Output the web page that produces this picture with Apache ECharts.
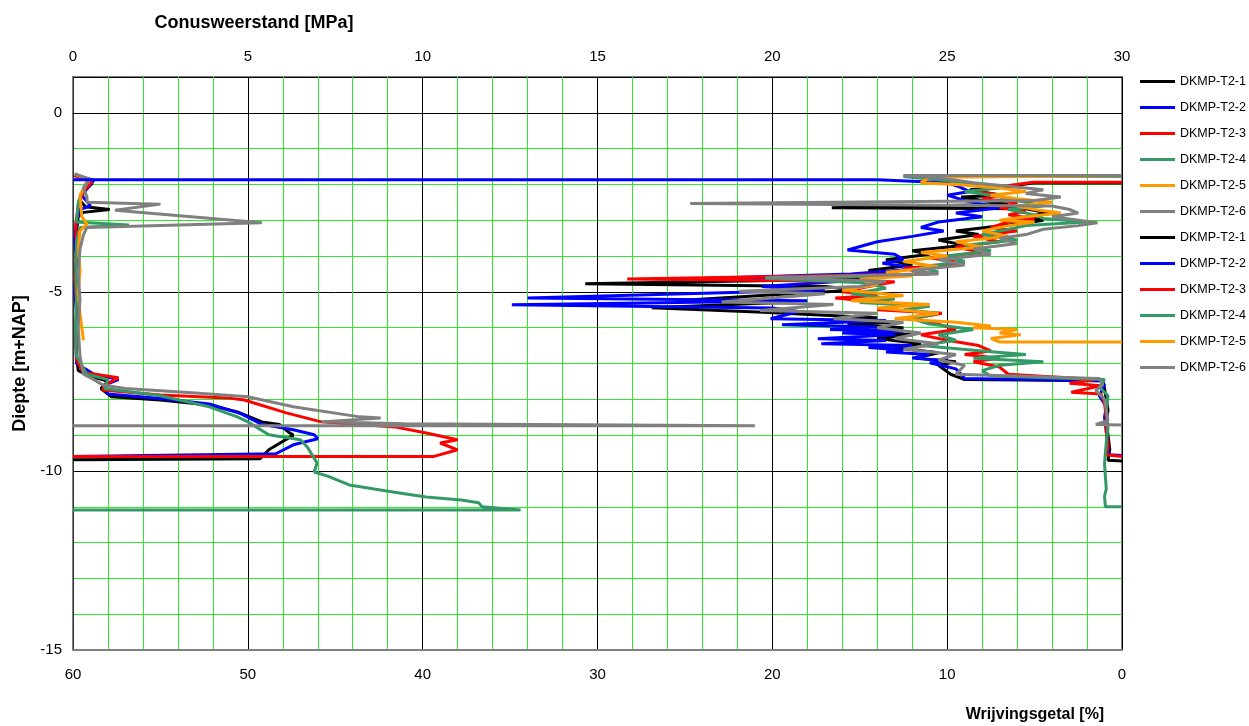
<!DOCTYPE html>
<html>
<head>
<meta charset="utf-8">
<title>DKMP-T2 sonderingen</title>
<script src="https://cdn.jsdelivr.net/npm/echarts@6/dist/echarts.min.js"></script>
<style>
    html, body { margin: 0; padding: 0; background: #fff; }
    #chart { width: 1249px; height: 726px; }
</style>
</head>
<body>
<div id="chart"></div>
<script>

// namen en kleuren van de sonderingen
var names = ['DKMP-T2-1', 'DKMP-T2-2', 'DKMP-T2-3', 'DKMP-T2-4', 'DKMP-T2-5', 'DKMP-T2-6'];
var colors = ['#000000', '#0000ff', '#ff0000', '#339966', '#ff9900', '#808080'];

// conusweerstand [MPa], diepte [m+NAP]
var qcT21 = [[0.05,-1.75],[0.5,-1.9],[0.55,-1.97],[0.3,-2.2],[0.2,-2.45],[0.35,-2.62],[1.05,-2.7],[0.3,-2.78],[0.15,-2.9],[0.1,-3.3],[0.12,-3.8],[0.08,-4.4],[0.12,-5.0],[0.1,-5.6],[0.12,-6.2],[0.1,-6.8],[0.15,-7.2],[0.5,-7.35],[1.0,-7.5],[0.8,-7.7],[1.1,-7.93],[2.5,-8.02],[3.9,-8.16],[4.7,-8.35],[5.4,-8.63],[5.9,-8.7],[6.2,-8.94],[6.3,-9.0],[5.6,-9.41],[5.35,-9.66],[0,-9.69]];
var qcT22 = [[0.05,-1.75],[0.6,-1.88],[0.5,-2.0],[0.25,-2.3],[0.5,-2.6],[0.2,-2.7],[0.1,-3.0],[0.05,-3.5],[0.1,-4.2],[0.05,-5.0],[0.1,-5.6],[0.08,-6.3],[0.1,-7.0],[0.6,-7.3],[1.3,-7.45],[0.9,-7.6],[1.0,-7.85],[2.5,-7.98],[3.9,-8.13],[4.8,-8.4],[5.4,-8.7],[6.3,-8.85],[6.9,-8.99],[7.0,-9.1],[6.3,-9.27],[5.8,-9.52],[0,-9.6]];
var qcT23 = [[0.05,-1.75],[0.55,-1.92],[0.3,-2.2],[0.15,-2.6],[0.08,-3.1],[0.1,-3.8],[0.06,-4.6],[0.1,-5.4],[0.08,-6.2],[0.1,-6.9],[0.3,-7.25],[1.3,-7.4],[0.9,-7.6],[0.85,-7.74],[2.5,-7.88],[4.4,-7.96],[4.9,-8.02],[6.1,-8.38],[7.1,-8.63],[9.2,-8.77],[10.1,-8.94],[11.0,-9.13],[10.5,-9.22],[11.0,-9.41],[10.3,-9.6],[0,-9.6]];
var qcT24 = [[0.05,-1.7],[0.45,-1.85],[0.3,-2.1],[0.15,-2.5],[0.1,-3.05],[1.6,-3.13],[0.2,-3.2],[0.1,-3.6],[0.08,-4.4],[0.1,-5.2],[0.07,-6.0],[0.1,-6.8],[0.4,-7.3],[1.0,-7.45],[0.9,-7.7],[2.5,-7.9],[3.9,-8.21],[4.7,-8.49],[5.0,-8.63],[5.6,-8.99],[6.5,-9.13],[6.7,-9.33],[6.98,-9.78],[6.9,-10.03],[7.3,-10.15],[7.9,-10.39],[9.15,-10.59],[10.1,-10.73],[11.1,-10.81],[11.6,-10.89],[11.7,-11.0],[12.8,-11.09],[0,-11.09]];
var qcT25 = [[0.05,-1.72],[0.4,-1.85],[0.35,-2.05],[0.2,-2.3],[0.25,-2.9],[0.4,-3.1],[0.2,-3.3],[0.15,-3.8],[0.2,-4.4],[0.15,-5.0],[0.2,-5.6],[0.25,-6.0],[0.3,-6.35]];
var qcT26 = [[0.05,-1.72],[0.5,-1.85],[0.3,-2.1],[0.4,-2.35],[0.4,-2.5],[2.5,-2.55],[1.2,-2.72],[5.4,-3.07],[0.4,-3.2],[0.3,-3.4],[0.2,-3.8],[0.15,-4.5],[0.2,-5.2],[0.15,-6.0],[0.2,-6.8],[0.3,-7.3],[0.6,-7.45],[0.85,-7.6],[1.5,-7.7],[3.4,-7.82],[5.0,-7.93],[6.3,-8.21],[8.2,-8.49],[8.8,-8.52],[7.1,-8.63],[9.5,-8.68],[19.5,-8.74],[0,-8.74]];

// wrijvingsgetal [%], diepte [m+NAP]
var rfT21 = [[0,-1.96],[5.1,-1.96],[6.5,-2.05],[8.7,-2.15],[7.5,-2.25],[6.8,-2.3],[9.2,-2.35],[8.0,-2.45],[6.5,-2.55],[16.6,-2.65],[5.5,-2.68],[4.2,-2.8],[5.5,-2.9],[4.5,-3.0],[5.8,-3.1],[7.8,-3.2],[9.5,-3.3],[8.2,-3.4],[10.5,-3.55],[9.0,-3.7],[12.0,-3.85],[11.0,-3.95],[13.5,-4.1],[12.0,-4.25],[14.5,-4.4],[13.0,-4.55],[16.0,-4.65],[30.7,-4.77],[17.0,-4.85],[15.0,-4.95],[19.0,-5.05],[25.5,-5.25],[19.5,-5.3],[26.9,-5.44],[20.5,-5.57],[17.0,-5.65],[14.0,-5.72],[15.5,-5.78],[13.0,-5.85],[15.7,-5.92],[12.5,-6.0],[15.0,-6.1],[12.0,-6.2],[14.0,-6.3],[11.5,-6.45],[13.0,-6.55],[10.5,-6.7],[11.8,-6.85],[9.5,-6.95],[10.5,-7.05],[9.8,-7.3],[9.0,-7.45],[1.1,-7.48],[1.0,-7.7],[0.9,-8.0],[0.8,-8.3],[0.9,-8.6],[0.8,-9.0],[0.7,-9.4],[0.8,-9.7],[0,-9.72]];
var rfT22 = [[60,-1.87],[14,-1.87],[10.0,-1.95],[9.4,-2.05],[8.7,-2.2],[10.0,-2.3],[9.0,-2.45],[8.0,-2.55],[7.0,-2.65],[9.5,-2.8],[8.0,-2.9],[10.5,-3.05],[11.5,-3.2],[10.2,-3.3],[12.0,-3.45],[14.0,-3.6],[15.7,-3.83],[13.0,-3.95],[12.5,-4.1],[13.7,-4.2],[11.5,-4.35],[15.5,-4.5],[23.6,-4.62],[16.0,-4.7],[20.6,-4.85],[17.0,-4.95],[34.0,-5.17],[18.0,-5.25],[34.9,-5.36],[20.0,-5.45],[18.5,-5.55],[20.1,-5.75],[13.5,-5.8],[19.45,-5.92],[14.0,-5.98],[16.7,-6.05],[12.5,-6.1],[16.0,-6.15],[13.0,-6.2],[17.4,-6.31],[13.5,-6.36],[17.2,-6.45],[12.0,-6.5],[14.5,-6.55],[12.5,-6.62],[13.5,-6.68],[11.0,-6.75],[12.0,-6.85],[10.0,-6.92],[11.0,-6.98],[9.5,-7.15],[9.2,-7.3],[9.0,-7.42],[1.2,-7.48],[1.0,-7.6],[1.3,-7.9],[0.9,-8.2],[1.0,-8.5],[0.9,-8.9],[0.8,-9.3],[0.8,-9.55],[0,-9.57]];
var rfT23 = [[0,-1.94],[5.1,-1.94],[7.5,-2.1],[8.3,-2.2],[7.0,-2.3],[8.0,-2.4],[6.0,-2.5],[7.0,-2.65],[5.5,-2.75],[6.5,-2.85],[5.0,-2.95],[6.5,-3.05],[7.5,-3.2],[6.0,-3.3],[8.5,-3.45],[7.0,-3.6],[9.5,-3.75],[8.0,-3.9],[11.0,-4.05],[9.0,-4.2],[12.5,-4.35],[11.0,-4.5],[28.3,-4.64],[13.0,-4.72],[14.5,-4.85],[16.0,-5.0],[14.0,-5.1],[16.4,-5.17],[12.5,-5.35],[14.0,-5.5],[10.3,-5.6],[12.0,-5.75],[10.5,-5.9],[9.5,-6.05],[11.5,-6.2],[10.0,-6.35],[8.2,-6.5],[7.5,-6.65],[9.0,-6.75],[7.0,-6.85],[8.5,-6.95],[7.0,-7.1],[6.5,-7.3],[1.5,-7.45],[3.0,-7.55],[1.2,-7.62],[2.9,-7.8],[1.2,-7.85],[1.0,-8.1],[0.9,-8.5],[0.9,-8.9],[0.8,-9.3],[0.9,-9.55],[0,-9.6]];
var rfT24 = [[0,-1.78],[12.5,-1.78],[10.0,-1.9],[8.0,-2.0],[7.0,-2.1],[9.0,-2.2],[7.5,-2.3],[6.0,-2.45],[4.5,-2.6],[6.5,-2.7],[5.0,-2.85],[4.5,-2.95],[2.0,-3.05],[5.5,-3.15],[6.5,-3.25],[8.0,-3.4],[6.0,-3.55],[9.0,-3.7],[7.5,-3.85],[10.0,-4.0],[9.0,-4.15],[11.5,-4.3],[10.5,-4.45],[13.0,-4.55],[20.4,-4.63],[14.5,-4.75],[13.5,-4.9],[15.5,-5.05],[13.0,-5.2],[15.0,-5.3],[11.0,-5.4],[12.5,-5.5],[10.5,-5.6],[12.0,-5.75],[11.0,-5.9],[8.5,-6.05],[10.5,-6.2],[9.5,-6.35],[11.5,-6.5],[8.0,-6.65],[5.5,-6.75],[8.5,-6.85],[4.5,-6.95],[7.0,-7.05],[8.0,-7.2],[7.5,-7.35],[1.0,-7.45],[1.3,-7.65],[0.8,-7.9],[0.9,-8.3],[0.8,-8.8],[0.9,-9.2],[1.0,-9.8],[0.9,-10.5],[1.0,-10.7],[0.95,-11.0],[0,-11.0]];
var rfT25 = [[0,-1.76],[11.0,-1.8],[11.5,-1.95],[9.5,-2.0],[7.0,-2.1],[5.5,-2.2],[7.5,-2.3],[6.0,-2.4],[4.0,-2.5],[6.0,-2.6],[5.0,-2.7],[3.5,-2.8],[5.5,-2.9],[7.0,-3.0],[5.0,-3.05],[6.5,-3.15],[8.0,-3.3],[6.5,-3.45],[9.5,-3.6],[8.0,-3.75],[11.5,-3.9],[10.0,-4.0],[12.5,-4.15],[10.5,-4.3],[13.5,-4.45],[12.0,-4.55],[15.0,-4.65],[14.0,-4.8],[16.0,-4.95],[12.5,-5.1],[15.5,-5.25],[11.0,-5.35],[14.0,-5.45],[10.5,-5.6],[13.0,-5.75],[9.5,-5.85],[7.5,-5.95],[8.5,-6.0],[6.0,-6.05],[7.0,-6.15],[5.8,-6.2],[7.5,-6.3],[7.0,-6.4],[0,-6.4]];
var rfT26 = [[0,-1.75],[12.5,-1.75],[10.0,-1.85],[8.5,-1.95],[6.5,-2.05],[4.5,-2.15],[5.5,-2.25],[3.5,-2.35],[5.0,-2.45],[24.7,-2.53],[4.0,-2.6],[3.0,-2.7],[2.5,-2.8],[4.0,-2.9],[1.4,-3.07],[2.5,-3.15],[4.5,-3.25],[5.5,-3.4],[7.0,-3.5],[6.0,-3.65],[8.5,-3.8],[7.5,-3.95],[10.5,-4.1],[9.0,-4.25],[12.0,-4.4],[10.5,-4.5],[20.4,-4.6],[13.5,-4.7],[15.0,-4.85],[21.9,-4.98],[17.0,-5.05],[22.9,-5.28],[16.5,-5.35],[20.7,-5.52],[14.0,-5.6],[16.5,-5.75],[12.5,-5.85],[14.0,-6.0],[11.5,-6.15],[13.0,-6.3],[10.5,-6.45],[12.5,-6.6],[9.5,-6.75],[10.5,-6.9],[9.0,-7.05],[9.5,-7.3],[1.3,-7.42],[1.1,-7.6],[1.5,-7.75],[1.0,-8.0],[0.9,-8.3],[0.8,-8.6],[1.5,-8.7],[0,-8.72]];

var qcData = [qcT21, qcT22, qcT23, qcT24, qcT25, qcT26];
var rfData = [rfT21, rfT22, rfT23, rfT24, rfT25, rfT26];

var chart = echarts.init(document.getElementById('chart'), null, { renderer: 'canvas' });

var font = 'Liberation Sans, Arial, sans-serif';
var series = [];
var legendNames = [];

qcData.forEach(function (d, i) {
    series.push({
        name: names[i],
        type: 'line',
        xAxisIndex: 0,
        yAxisIndex: 0,
        data: d,
        symbol: 'none',
        color: colors[i],
        lineStyle: { width: 3, color: colors[i] }
    });
    legendNames.push(names[i]);
});
// tweede groep: zelfde naam, spatie erachter zodat de legenda ze apart toont
rfData.forEach(function (d, i) {
    series.push({
        name: names[i] + ' ',
        type: 'line',
        xAxisIndex: 1,
        yAxisIndex: 0,
        data: d,
        symbol: 'none',
        color: colors[i],
        lineStyle: { width: 3, color: colors[i] }
    });
    legendNames.push(names[i] + ' ');
});

var option = {
    backgroundColor: '#ffffff',
    animation: false,
    textStyle: { fontFamily: font },
    grid: {
        left: 73,
        top: 77,
        width: 1049,
        height: 573,
        show: true,
        borderColor: '#808080',
        borderWidth: 2,
        outerBoundsMode: 'none'
    },
    legend: {
        data: legendNames,
        orient: 'vertical',
        left: 1140,
        top: 75,
        padding: 0,
        icon: 'rect',
        itemWidth: 35,
        itemHeight: 3,
        itemGap: 13,
        textStyle: { fontSize: 12.5, color: '#000', fontFamily: font }
    },
    xAxis: [
        {
            type: 'value',
            position: 'top',
            min: 0,
            max: 30,
            interval: 5,
            axisLine: { show: true, lineStyle: { color: '#000', width: 1 } },
            axisTick: { show: false },
            axisLabel: { fontSize: 15, color: '#000', margin: 13 },
            splitLine: { show: true, lineStyle: { color: '#000', width: 1 } },
            minorTick: { show: false, splitNumber: 5 },
            minorSplitLine: { show: true, lineStyle: { color: '#2ee82e', width: 1 } }
        },
        {
            type: 'value',
            position: 'bottom',
            min: 0,
            max: 60,
            interval: 10,
            inverse: true,
            axisLine: { show: true, lineStyle: { color: '#808080', width: 2 } },
            axisTick: { show: false },
            axisLabel: { fontSize: 15, color: '#000', margin: 17 },
            splitLine: { show: false }
        }
    ],
    yAxis: [
        {
            type: 'value',
            min: -15,
            max: 1,
            interval: 5,
            name: 'Diepte [m+NAP]',
            nameLocation: 'middle',
            nameRotate: 90,
            nameGap: 44,
            nameTextStyle: { fontSize: 18, fontWeight: 'bold', color: '#000' },
            axisLine: { show: true, lineStyle: { color: '#333', width: 1 } },
            axisTick: { show: false },
            axisLabel: { fontSize: 15, color: '#000', margin: 11, showMaxLabel: false },
            splitLine: { show: true, lineStyle: { color: '#000', width: 1 } },
            minorTick: { show: false, splitNumber: 5 },
            minorSplitLine: { show: true, lineStyle: { color: '#2ee82e', width: 1 } }
        }
    ],
    graphic: [
        {
            type: 'text',
            x: 254,
            y: 23,
            style: {
                text: 'Conusweerstand [MPa]',
                font: 'bold 18px ' + font,
                fill: '#000',
                textAlign: 'center',
                textVerticalAlign: 'middle'
            }
        },
        {
            type: 'text',
            x: 1035,
            y: 715,
            style: {
                text: 'Wrijvingsgetal [%]',
                font: 'bold 16px ' + font,
                fill: '#000',
                textAlign: 'center',
                textVerticalAlign: 'middle'
            }
        }
    ],
    series: series
};

chart.setOption(option);
window.addEventListener('resize', function () {
    chart.resize();
});
</script>
</body>
</html>
